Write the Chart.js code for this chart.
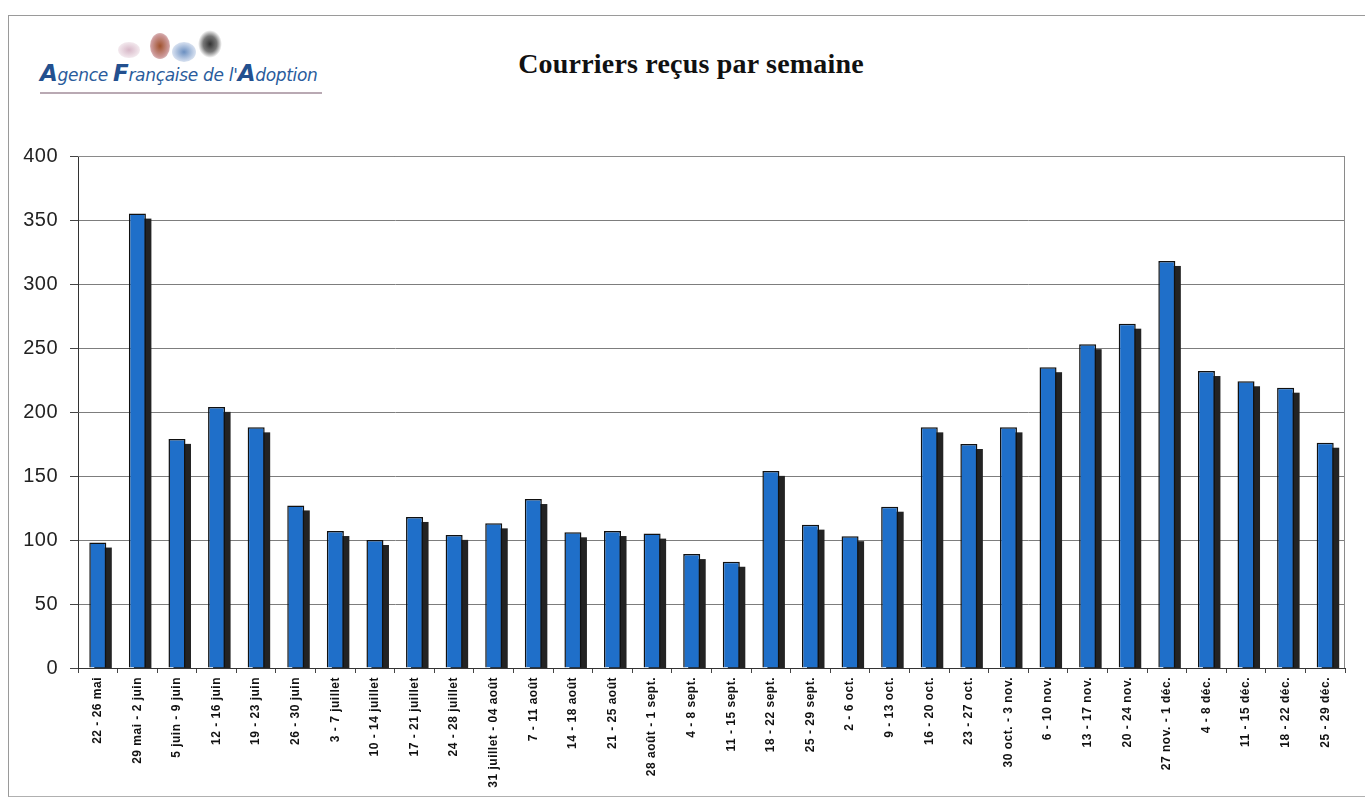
<!DOCTYPE html>
<html lang="fr">
<head>
<meta charset="utf-8">
<script src="https://cdn.jsdelivr.net/npm/chart.js@4"></script>
<style>
  html, body { margin: 0; padding: 0; background: #fff; }
  body { width: 1365px; height: 799px; position: relative; overflow: hidden; }
  #frame { position: absolute; left: 8px; top: 15px; width: 1370px; height: 780px;
           border-left: 1.5px solid #9a9a9a; border-top: 1.5px solid #9a9a9a; border-bottom: 1.5px solid #b0b0b0; }
  canvas { position: absolute; left: 0; top: 0; }
  #title { position: absolute; left: 0; width: 1382px; top: 48px; text-align: center;
           font-family: "Liberation Serif", "Times New Roman", serif; font-weight: bold; font-size: 28px;
           letter-spacing: 0.2px; color: #111; }
  #logo { position: absolute; left: 40px; top: 60px; width: 282px;
          font-family: "DejaVu Sans", sans-serif; font-style: italic; font-size: 17px; color: #2a5c9c;
          letter-spacing: -0.3px; border-bottom: 2px solid #b9a9b3; padding-bottom: 6px; white-space: nowrap; }
  #logo .big { font-size: 23px; font-weight: bold; color: #23508f; }
  .blob { position: absolute; border-radius: 50%; }
</style>
</head>
<body>
<div id="frame"></div>
<div class="blob" style="left:118px;top:42px;width:22px;height:16px;background:radial-gradient(#d7b7c7,#fff0);"></div>
<div class="blob" style="left:150px;top:33px;width:20px;height:26px;background:radial-gradient(#a0522d,#c99 60%,#fff0);"></div>
<div class="blob" style="left:172px;top:42px;width:24px;height:20px;background:radial-gradient(#6b8fc0,#c9d6ea 60%,#fff0);"></div>
<div class="blob" style="left:198px;top:30px;width:24px;height:28px;background:radial-gradient(#333,#777 40%,#fff0 70%);"></div>
<div id="logo"><span class="big">A</span>gence <span class="big">F</span>rançaise de l'<span class="big">A</span>doption</div>
<div id="title">Courriers reçus par semaine</div>
<canvas id="c" width="1365" height="799"></canvas>
<script>
const weeks = [
  "22 - 26 mai", "29 mai - 2 juin", "5 juin - 9 juin", "12 - 16 juin", "19 - 23 juin",
  "26 - 30 juin", "3 - 7 juillet", "10 - 14 juillet", "17 - 21 juillet", "24 - 28 juillet",
  "31 juillet - 04 août", "7 - 11 août", "14 - 18 août", "21 - 25 août", "28 août - 1 sept.",
  "4 - 8 sept.", "11 - 15 sept.", "18 - 22 sept.", "25 - 29 sept.", "2 - 6 oct.",
  "9 - 13 oct.", "16 - 20 oct.", "23 - 27 oct.", "30 oct. - 3 nov.", "6 - 10 nov.",
  "13 - 17 nov.", "20 - 24 nov.", "27 nov. - 1 déc.", "4 - 8 déc.", "11 - 15 déc.",
  "18 - 22 déc.", "25 - 29 déc."
];
const courriers = [
  98, 355, 179, 204, 188,
  127, 107, 100, 118, 104,
  113, 132, 106, 107, 105,
  89, 83, 154, 112, 103,
  126, 188, 175, 188, 235,
  253, 269, 318, 232, 224,
  219, 176
];
const yMin = 0, yMax = 400, yStep = 50;

const textSpacingPlugin = {
  id: 'textSpacing',
  beforeDraw(chart) { chart.ctx.letterSpacing = '0.5px'; }
};
const shadowPlugin = {
  id: 'barShadow',
  beforeDatasetsDraw(chart) {
    const ctx = chart.ctx, a = chart.chartArea;
    const meta = chart.getDatasetMeta(0);
    ctx.save();
    ctx.beginPath();
    ctx.rect(a.left, a.top, a.right - a.left, a.bottom - a.top);
    ctx.clip();
    ctx.fillStyle = '#232323';
    meta.data.forEach(bar => {
      const p = bar.getProps(['x', 'y', 'base', 'width'], true);
      ctx.fillRect(p.x - p.width / 2 + 5, p.y + 5, p.width + 0.5, p.base - p.y);
    });
    ctx.restore();
  }
};
const framePlugin = {
  id: 'plotFrame',
  afterDraw(chart) {
    const a = chart.chartArea, ctx = chart.ctx;
    ctx.save();
    ctx.strokeStyle = '#8a8a8a';
    ctx.lineWidth = 1;
    ctx.beginPath();
    ctx.moveTo(a.left, a.top + 0.5);
    ctx.lineTo(a.right - 0.5, a.top + 0.5);
    ctx.lineTo(a.right - 0.5, a.bottom);
    ctx.stroke();
    ctx.restore();
  }
};

new Chart(document.getElementById('c'), {
  type: 'bar',
  data: {
    labels: weeks,
    datasets: [{
      data: courriers,
      backgroundColor: '#1f6fc9',
      borderColor: '#111111',
      borderWidth: 1.5,
      barPercentage: 0.43,
      categoryPercentage: 1.0
    }]
  },
  options: {
    responsive: false,
    animation: false,
    layout: { padding: { left: 0, right: 20, top: 156, bottom: 0 } },
    plugins: { legend: { display: false }, tooltip: { enabled: false }, title: { display: false } },
    scales: {
      x: {
        afterFit(scale) { scale.height = 131; },
        grid: { drawOnChartArea: false, offset: true, drawTicks: true, tickLength: 5, color: '#444' },
        border: { color: '#333', width: 1 },
        ticks: {
          autoSkip: false, minRotation: 90, maxRotation: 90, padding: 4,
          color: '#111',
          font: { family: '"Liberation Sans", Arial, sans-serif', weight: 'bold', size: 12 }
        }
      },
      y: {
        min: yMin, max: yMax,
        afterFit(scale) { scale.width = 78; },
        grid: { color: '#7d7d7d', lineWidth: 1, drawTicks: true, tickLength: 8, tickColor: '#444' },
        border: { color: '#333', width: 1 },
        ticks: {
          stepSize: yStep, padding: 12, color: '#222',
          font: { family: '"Liberation Sans", Arial, sans-serif', size: 20 }
        }
      }
    }
  },
  plugins: [textSpacingPlugin, shadowPlugin, framePlugin]
});
</script>
</body>
</html>
